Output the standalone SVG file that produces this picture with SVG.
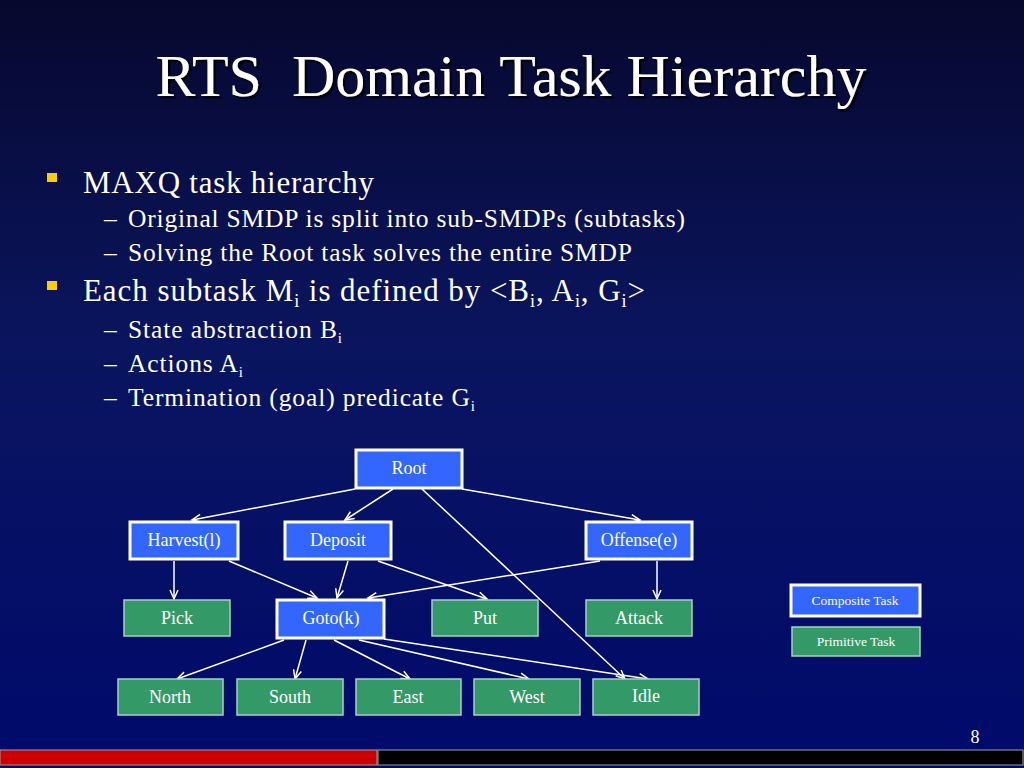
<svg xmlns="http://www.w3.org/2000/svg" width="1024" height="768" viewBox="0 0 1024 768">
<defs>
<linearGradient id="bg" x1="0" y1="0" x2="0" y2="1">
<stop offset="0" stop-color="#07082e"/>
<stop offset="0.45" stop-color="#0a155f"/>
<stop offset="1" stop-color="#000a6c"/>
</linearGradient>
<filter id="shadow" x="-5%" y="-20%" width="110%" height="150%">
<feDropShadow dx="2.5" dy="2.5" stdDeviation="0.5" flood-color="#000000" flood-opacity="0.8"/>
</filter>
<marker id="arr" markerWidth="12" markerHeight="12" refX="10" refY="5" orient="auto" markerUnits="userSpaceOnUse">
<path d="M1,1 L10,5 L1,9" fill="none" stroke="#ffffff" stroke-width="1.5"/>
</marker>
</defs>
<style>
.t{font-family:"Liberation Serif","Times New Roman",serif;fill:#ffffff}
.comp{fill:#3366ff;stroke:#ffffff;stroke-width:3}
.prim{fill:#339966;stroke:#a8d0c4;stroke-width:1.5}
.nl{font-family:"Liberation Serif","Times New Roman",serif;fill:#ffffff;font-size:18px;text-anchor:middle}
.lg{font-size:13.5px}
.edge{stroke:#ffffff;stroke-width:1.5;fill:none;marker-end:url(#arr)}
.b1{font-size:31px}
.b2{font-size:25.5px}
.bul{fill:#ffcc00}
</style>
<rect width="1024" height="768" fill="url(#bg)"/>
<text class="t" x="511" y="96" font-size="60" text-anchor="middle" filter="url(#shadow)" xml:space="preserve">RTS  Domain Task Hierarchy</text>
<g id="bullets">
<rect class="bul" x="47" y="173" width="10" height="9"/>
<text class="t b1" x="83" y="193" textLength="291" lengthAdjust="spacing">MAXQ task hierarchy</text>
<text class="t b2" x="104" y="227">–</text>
<text class="t b2" x="128" y="227" textLength="557" lengthAdjust="spacing">Original SMDP is split into sub-SMDPs (subtasks)</text>
<text class="t b2" x="104" y="261">–</text>
<text class="t b2" x="128" y="261" textLength="504" lengthAdjust="spacing">Solving the Root task solves the entire SMDP</text>
<rect class="bul" x="47" y="281" width="10" height="9"/>
<text class="t b1" x="83" y="301" textLength="562" lengthAdjust="spacing">Each subtask M<tspan font-size="18" dy="6">i</tspan><tspan dy="-6"> is defined by &lt;B</tspan><tspan font-size="18" dy="6">i</tspan><tspan dy="-6">, A</tspan><tspan font-size="18" dy="6">i</tspan><tspan dy="-6">, G</tspan><tspan font-size="18" dy="6">i</tspan><tspan dy="-6">&gt;</tspan></text>
<text class="t b2" x="104" y="338">–</text>
<text class="t b2" x="128" y="338" textLength="214" lengthAdjust="spacing">State abstraction B<tspan font-size="15" dy="5">i</tspan></text>
<text class="t b2" x="104" y="372">–</text>
<text class="t b2" x="128" y="372" textLength="115" lengthAdjust="spacing">Actions A<tspan font-size="15" dy="5">i</tspan></text>
<text class="t b2" x="104" y="406">–</text>
<text class="t b2" x="128" y="406" textLength="347" lengthAdjust="spacing">Termination (goal) predicate G<tspan font-size="15" dy="5">i</tspan></text>
</g>
<g id="connectors">
<line class="edge" x1="355" y1="489" x2="192" y2="520"/>
<line class="edge" x1="393" y1="489" x2="345" y2="520"/>
<line class="edge" x1="462" y1="489" x2="640" y2="520"/>
<line class="edge" x1="422" y1="489" x2="625" y2="679"/>
<line class="edge" x1="174" y1="561" x2="174" y2="599"/>
<line class="edge" x1="229" y1="561" x2="317" y2="598"/>
<line class="edge" x1="348" y1="561" x2="337" y2="598"/>
<line class="edge" x1="378" y1="561" x2="487" y2="599"/>
<line class="edge" x1="600" y1="561" x2="368" y2="598"/>
<line class="edge" x1="657" y1="561" x2="657" y2="599"/>
<line class="edge" x1="284" y1="640" x2="177" y2="679"/>
<line class="edge" x1="306" y1="640" x2="295" y2="679"/>
<line class="edge" x1="334" y1="640" x2="410" y2="679"/>
<line class="edge" x1="359" y1="640" x2="529" y2="679"/>
<line class="edge" x1="384" y1="639" x2="648" y2="679"/>
</g>
<g id="root"><rect class="comp" x="356" y="450" width="106" height="38"/><text class="nl" x="409" y="474">Root</text></g>
<g id="harvest"><rect class="comp" x="130" y="522" width="108" height="37"/><text class="nl" x="184" y="546">Harvest(l)</text></g>
<g id="deposit"><rect class="comp" x="285" y="522" width="106" height="37"/><text class="nl" x="338" y="546">Deposit</text></g>
<g id="offense"><rect class="comp" x="586" y="522" width="106" height="37"/><text class="nl" x="639" y="546">Offense(e)</text></g>
<g id="pick"><rect class="prim" x="124" y="600" width="106" height="36"/><text class="nl" x="177" y="624">Pick</text></g>
<g id="goto"><rect class="comp" x="277" y="600" width="107" height="38"/><text class="nl" x="331" y="624">Goto(k)</text></g>
<g id="put"><rect class="prim" x="432" y="600" width="106" height="36"/><text class="nl" x="485" y="624">Put</text></g>
<g id="attack"><rect class="prim" x="586" y="600" width="106" height="36"/><text class="nl" x="639" y="624">Attack</text></g>
<g id="north"><rect class="prim" x="118" y="679" width="105" height="36"/><text class="nl" x="170" y="703">North</text></g>
<g id="south"><rect class="prim" x="237" y="679" width="106" height="36"/><text class="nl" x="290" y="703">South</text></g>
<g id="east"><rect class="prim" x="356" y="679" width="105" height="36"/><text class="nl" x="408" y="703">East</text></g>
<g id="west"><rect class="prim" x="474" y="679" width="106" height="36"/><text class="nl" x="527" y="703">West</text></g>
<g id="idle"><rect class="prim" x="593" y="679" width="106" height="36"/><text class="nl" x="646" y="702">Idle</text></g>
<g id="legend-composite"><rect class="comp" x="791" y="585" width="129" height="31"/><text class="nl lg" x="855" y="605">Composite Task</text></g>
<g id="legend-primitive"><rect class="prim" x="792" y="627" width="128" height="29"/><text class="nl lg" x="856" y="646">Primitive Task</text></g>
<text class="t" x="975" y="743" font-size="18" text-anchor="middle">8</text>
<g id="footer">
<rect x="0" y="750" width="377" height="15" fill="#cc0000" stroke="#a0a0a0" stroke-width="1"/>
<rect x="378" y="750" width="645" height="15" fill="#000000" stroke="#a0a0a0" stroke-width="1"/>
</g>
</svg>
